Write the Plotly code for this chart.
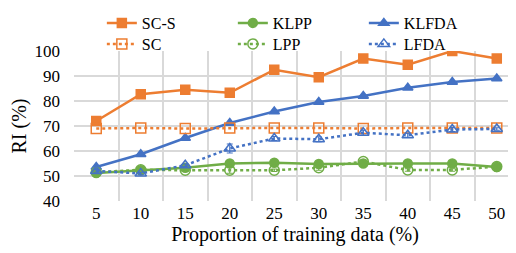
import plotly.graph_objects as go

proportion = [5, 10, 15, 20, 25, 30, 35, 40, 45, 50]
sc_s = [72.0, 82.7, 84.5, 83.3, 92.5, 89.5, 97.0, 94.5, 100.0, 97.0]
sc = [69.0, 69.2, 69.0, 69.2, 69.2, 69.2, 69.0, 69.2, 69.2, 69.2]
klpp = [51.2, 52.3, 53.3, 55.0, 55.3, 54.8, 55.0, 55.0, 55.0, 53.6]
lpp = [51.5, 52.5, 52.3, 52.3, 52.3, 53.3, 55.8, 52.4, 52.4, 53.8]
klfda = [53.6, 58.7, 65.2, 71.2, 75.8, 79.6, 82.0, 85.3, 87.6, 89.0]
lfda = [52.0, 51.0, 54.3, 61.0, 65.0, 64.7, 67.3, 66.3, 68.6, 68.8]
sc_s_err = [1.2, 0.4, 0.4, 0.4, 0.4, 0.4, 0.4, 0.4, 0.4, 0.4]
lpp_err = [0.5, 0.5, 0.5, 1.2, 0.5, 1.0, 0.5, 0.5, 0.5, 0.5]
lfda_err = [0.5, 0.5, 0.5, 1.8, 0.8, 1.0, 1.0, 0.8, 0.8, 0.5]

ORANGE = "#ED7D31"
GREEN = "#70AD47"
BLUE = "#4472C4"
FONT = "Liberation Serif"

fig = go.Figure()

def add(name, y, color, symbol, dash, legend, err=None):
    kw = {}
    if err is not None:
        kw["error_y"] = dict(type="data", array=err, visible=True, color=color,
                             thickness=1.2, width=3)
    fig.add_trace(go.Scatter(
        x=proportion, y=y, name=name, mode="lines+markers", legend=legend,
        line=dict(color=color, width=2.5, dash=dash),
        marker=dict(symbol=symbol, size=10 if "open" in symbol else 9, color=color,
                    line=dict(color=color, width=1.5)),
        **kw))

add("SC-S", sc_s, ORANGE, "square", "solid", "legend", sc_s_err)
add("KLPP", klpp, GREEN, "circle", "solid", "legend")
add("KLFDA", klfda, BLUE, "triangle-up", "solid", "legend")
add("SC", sc, ORANGE, "square-open", "dot", "legend2")
add("LPP", lpp, GREEN, "circle-open", "dot", "legend2", lpp_err)
add("LFDA", lfda, BLUE, "triangle-up-open", "dot", "legend2", lfda_err)

leg_common = dict(orientation="h", x=0.063, xref="paper", yref="paper",
                  yanchor="top", entrywidth=86, entrywidthmode="pixels",
                  font=dict(family=FONT, size=16, color="black"),
                  bgcolor="rgba(0,0,0,0)", tracegroupgap=0)

fig.update_layout(
    template="none",
    width=508, height=245,
    margin=dict(l=66, r=0, t=43, b=52, autoexpand=False),
    paper_bgcolor="white", plot_bgcolor="white",
    font=dict(family=FONT, size=17, color="black"),
    showlegend=True,
    legend=dict(y=1.30, **leg_common),
    legend2=dict(y=1.16, **leg_common),
    xaxis=dict(range=[2.5, 52.16], tickvals=proportion, showgrid=False,
               zeroline=False, showline=False, ticks="",
               minor=dict(tick0=2.5, dtick=5, showgrid=True, gridcolor="#d9d9d9",
                          gridwidth=1.5),
               tickfont=dict(family=FONT, size=17, color="black"),
               title=dict(text="Proportion of training data (%)",
                          font=dict(family=FONT, size=20, color="black"),
                          standoff=4)),
    yaxis=dict(range=[40, 100], dtick=10, showgrid=True, gridcolor="#d9d9d9",
               gridwidth=1.5, zeroline=False, showline=False,
               ticklabelstandoff=13, tickfont=dict(family=FONT, size=17, color="black"),
               title=dict(text="RI (%)", font=dict(family=FONT, size=20, color="black"),
                          standoff=10)),
)

fig.write_html("out.html")
